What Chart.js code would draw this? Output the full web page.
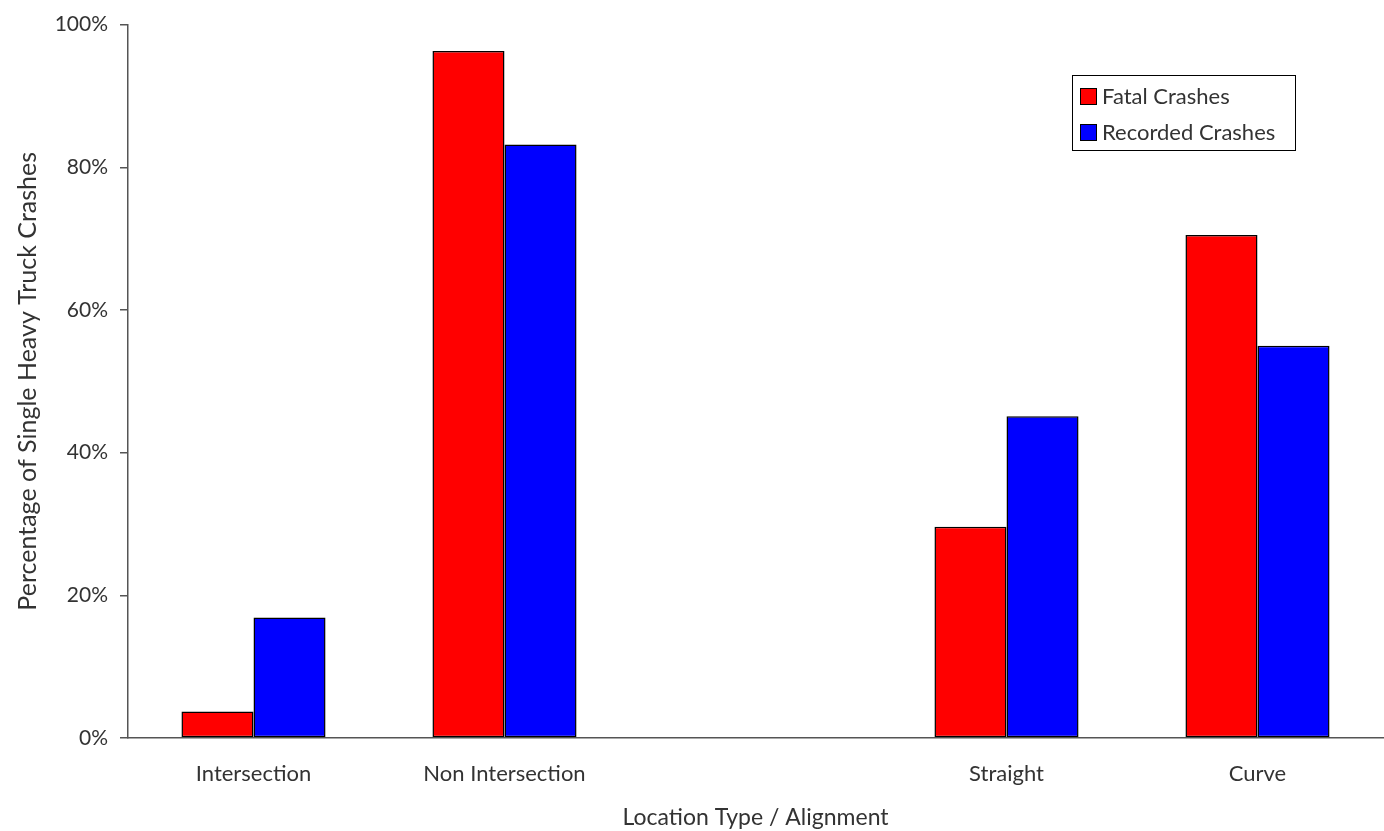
<!DOCTYPE html>
<html>
<head>
<meta charset="utf-8">
<script src="https://cdn.jsdelivr.net/npm/chart.js@4/dist/chart.umd.min.js"></script>
<style>
  html, body { margin: 0; padding: 0; background: #fff; }
  #wrap { width: 1384px; height: 831px; }
</style>
</head>
<body>
<div id="wrap"><canvas id="c" width="1384" height="831"></canvas></div>
<script>
// categories (blank slot between the two groups)
const categories = ['Intersection', 'Non Intersection', '', 'Straight', 'Curve'];
// % of single heavy truck crashes
const fatalCrashes = [3.7, 96.3, null, 29.6, 70.5];
const recordedCrashes = [16.9, 83.2, null, 45.1, 55.0];
const yTicks = [0, 20, 40, 60, 80, 100];

const FONT = 'Lato, "Open Sans", sans-serif';
const TEXT = '#333';

// legend drawn inside the plot, boxed
const boxLegend = {
  id: 'boxLegend',
  afterDraw(chart) {
    const ctx = chart.ctx;
    const x = 1072, y = 75, w = 223, h = 75;
    ctx.save();
    ctx.strokeStyle = '#000';
    ctx.lineWidth = 1;
    ctx.strokeRect(x + 0.5, y + 0.5, w, h);
    ctx.font = '22px ' + FONT;
    ctx.textBaseline = 'middle';
    chart.data.datasets.forEach((ds, i) => {
      const cy = y + 21 + i * 36;
      ctx.fillStyle = ds.backgroundColor;
      ctx.fillRect(x + 8, cy - 8, 17, 17);
      ctx.strokeStyle = '#000';
      ctx.strokeRect(x + 8.5, cy - 7.5, 16, 16);
      ctx.fillStyle = TEXT;
      ctx.fillText(ds.label, x + 30, cy + 1);
    });
    ctx.restore();
  }
};

new Chart(document.getElementById('c'), {
  type: 'bar',
  data: {
    labels: categories,
    datasets: [
      {
        label: 'Fatal Crashes',
        data: fatalCrashes,
        backgroundColor: '#ff0000',
        borderColor: '#000',
        borderWidth: 1.5,
        borderSkipped: false
      },
      {
        label: 'Recorded Crashes',
        data: recordedCrashes,
        backgroundColor: '#0000ff',
        borderColor: '#000',
        borderWidth: 1.5,
        borderSkipped: false
      }
    ]
  },
  options: {
    responsive: false,
    animation: false,
    layout: { padding: { top: 20, right: 1, left: 0, bottom: 0 } },
    datasets: { bar: { categoryPercentage: 0.574, barPercentage: 1 } },
    plugins: {
      legend: { display: false },
      tooltip: { enabled: false }
    },
    scales: {
      x: {
        grid: { display: false, drawTicks: false },
        border: { display: true, color: '#555', width: 1.5 },
        ticks: { color: TEXT, font: { family: FONT, size: 22 }, padding: 23, maxRotation: 0, autoSkip: false },
        title: {
          display: true,
          text: 'Location Type / Alignment',
          color: TEXT,
          font: { family: FONT, size: 23 },
          padding: { top: 0, bottom: 0 }
        },
        afterFit(scale) { scale.height = 93; }
      },
      y: {
        min: 0,
        max: 100,
        afterBuildTicks(scale) { scale.ticks = yTicks.map(v => ({ value: v })); },
        grid: { drawOnChartArea: false, drawTicks: true, tickLength: 8, color: '#555', lineWidth: 1.5 },
        border: { display: true, color: '#555', width: 1.5 },
        ticks: { color: TEXT, font: { family: FONT, size: 21 }, padding: 12, callback: v => v + '%' },
        title: {
          display: true,
          text: 'Percentage of Single Heavy Truck Crashes',
          color: TEXT,
          font: { family: FONT, size: 25 },
          padding: { top: 13, bottom: 0 }
        },
        afterFit(scale) { scale.width = 128; }
      }
    }
  },
  plugins: [boxLegend]
});
</script>
</body>
</html>
